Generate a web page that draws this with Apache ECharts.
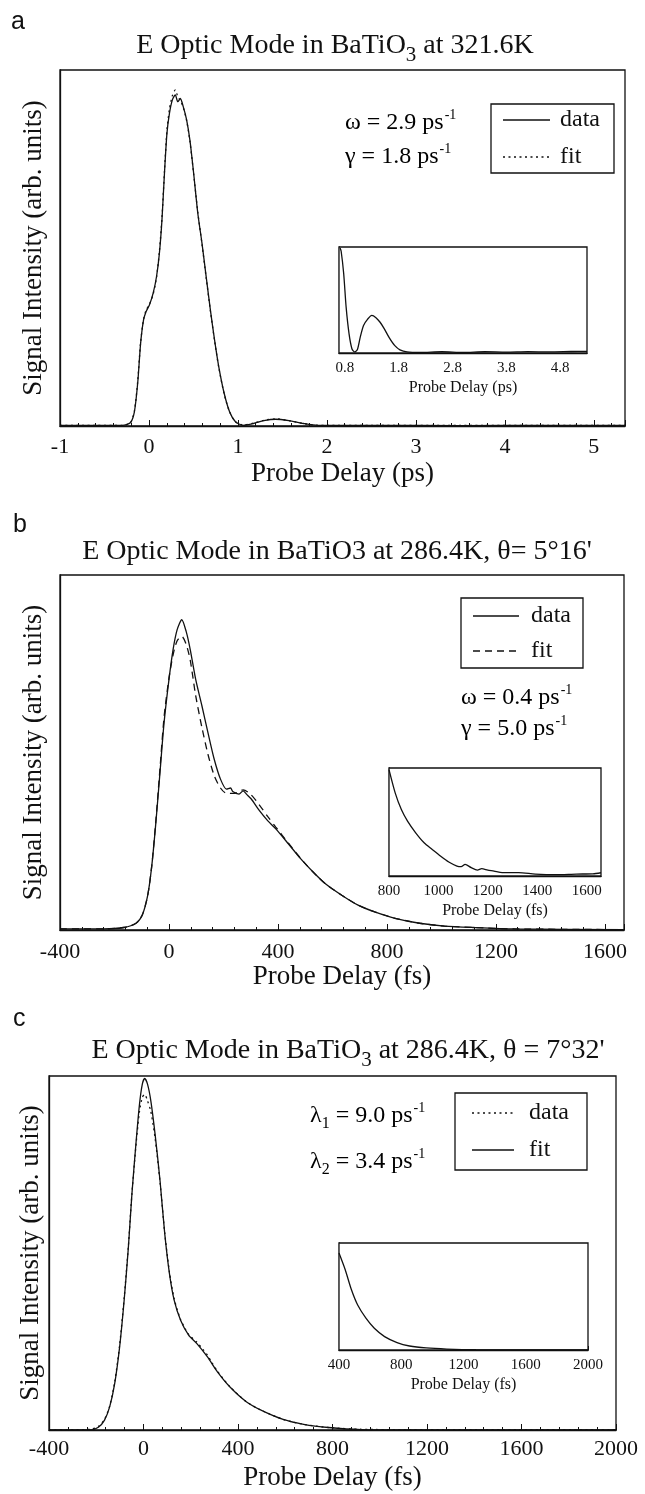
<!DOCTYPE html>
<html>
<head>
<meta charset="utf-8">
<script src="https://cdn.jsdelivr.net/npm/echarts@6/dist/echarts.min.js"></script>
<style>
html,body{margin:0;padding:0;background:#fff;}
#chart{width:645px;height:1494px;}
</style>
</head>
<body>
<div id="chart"></div>
<script>
// ---------- Panel a (ps) ----------
const aMainTicks = [-1, 0, 1, 2, 3, 4, 5];
const aData = [[-1,0.002],[-0.6,0.002],[-0.3,0.002],[-0.21,0.009],[-0.164,0.04],[-0.127,0.12],[-0.094,0.232],[-0.061,0.298],[-0.033,0.321],[0.005,0.34],[0.047,0.373],[0.085,0.42],[0.117,0.485],[0.146,0.579],[0.174,0.71],[0.202,0.822],[0.23,0.878],[0.263,0.916],[0.296,0.93],[0.324,0.911],[0.352,0.92],[0.385,0.897],[0.423,0.86],[0.46,0.803],[0.502,0.71],[0.549,0.597],[0.596,0.513],[0.643,0.419],[0.69,0.326],[0.737,0.242],[0.784,0.167],[0.845,0.092],[0.906,0.04],[0.972,0.012],[1.056,0.002],[1.174,0.007],[1.291,0.015],[1.423,0.019],[1.573,0.015],[1.737,0.007],[1.901,0.002],[2.5,0.002],[3.5,0.001],[4.5,0.002],[5.35,0.002]];
const aFit = [[-1,0.002],[-0.6,0.002],[-0.3,0.002],[-0.21,0.009],[-0.164,0.042],[-0.127,0.125],[-0.094,0.235],[-0.061,0.3],[-0.033,0.325],[0.005,0.342],[0.047,0.37],[0.085,0.418],[0.117,0.49],[0.146,0.585],[0.174,0.715],[0.202,0.83],[0.23,0.89],[0.263,0.928],[0.296,0.944],[0.324,0.925],[0.352,0.915],[0.385,0.895],[0.423,0.858],[0.46,0.8],[0.502,0.708],[0.549,0.6],[0.596,0.51],[0.643,0.416],[0.69,0.324],[0.737,0.24],[0.784,0.165],[0.845,0.09],[0.906,0.04],[0.972,0.012],[1.056,0.003],[1.174,0.008],[1.291,0.016],[1.423,0.02],[1.573,0.015],[1.737,0.007],[1.901,0.002],[2.5,0.002],[3.5,0.002],[4.5,0.002],[5.35,0.002]];
const aInsetTicks = [0.8, 1.8, 2.8, 3.8, 4.8];
const aInset = [[0.71,0.99],[0.73,0.96],[0.777,0.75],[0.823,0.43],[0.877,0.18],[0.93,0.04],[0.977,0.01],[1.03,0.03],[1.085,0.15],[1.146,0.26],[1.223,0.32],[1.3,0.355],[1.377,0.333],[1.454,0.29],[1.53,0.23],[1.623,0.145],[1.723,0.072],[1.823,0.03],[1.954,0.01],[2.2,0.005],[2.6,0.012],[3.0,0.006],[3.4,0.012],[3.8,0.008],[4.2,0.013],[4.6,0.01],[5.0,0.014],[5.3,0.016]];

// ---------- Panel b (fs) ----------
const bMainTicks = [-400, 0, 400, 800, 1200, 1600];
const bData = [[-400,0.003],[-241,0.003],[-166,0.007],[-121,0.019],[-98,0.042],[-78,0.098],[-63,0.182],[-48,0.304],[-33,0.444],[-18,0.584],[0,0.706],[15,0.79],[30,0.846],[47,0.874],[63,0.841],[78,0.79],[98,0.706],[121,0.631],[143,0.556],[166,0.481],[189,0.425],[211,0.397],[226,0.4],[234,0.39],[257,0.383],[272,0.392],[285,0.382],[302,0.369],[332,0.336],[362,0.308],[392,0.285],[438,0.243],[483,0.201],[528,0.164],[573,0.131],[634,0.098],[694,0.07],[755,0.051],[830,0.033],[920,0.019],[1011,0.011],[1117,0.007],[1268,0.003],[1670,0.001]];
const bFit = [[-400,0.003],[-241,0.003],[-166,0.007],[-121,0.019],[-98,0.042],[-78,0.098],[-63,0.182],[-48,0.31],[-33,0.455],[-18,0.6],[0,0.71],[15,0.775],[30,0.815],[47,0.827],[63,0.805],[78,0.76],[98,0.66],[121,0.57],[143,0.495],[166,0.435],[189,0.4],[211,0.385],[240,0.385],[272,0.395],[300,0.382],[332,0.352],[362,0.32],[392,0.29],[438,0.245],[483,0.202],[528,0.164],[573,0.131],[634,0.098],[694,0.07],[755,0.051],[830,0.033],[920,0.019],[1011,0.011],[1117,0.007],[1268,0.003],[1670,0.001]];
const bInsetTicks = [800, 1000, 1200, 1400, 1600];
const bInset = [[800,0.985],[825,0.77],[850,0.615],[875,0.508],[908,0.4],[942,0.308],[975,0.246],[1008,0.185],[1042,0.129],[1075,0.092],[1092,0.086],[1108,0.108],[1133,0.077],[1158,0.055],[1175,0.068],[1200,0.055],[1225,0.046],[1258,0.031],[1325,0.031],[1392,0.018],[1475,0.012],[1558,0.018],[1625,0.02],[1658,0.03]];

// ---------- Panel c (fs) ----------
const cMainTicks = [-400, 0, 400, 800, 1200, 1600, 2000];
const cFit = [[-400,0],[-226,0],[-191,0.008],[-165,0.028],[-143,0.066],[-122,0.131],[-101,0.235],[-82,0.366],[-64,0.516],[-49,0.667],[-31,0.817],[-17,0.92],[-5,0.977],[5,0.993],[17,0.977],[31,0.93],[49,0.836],[70,0.704],[90,0.554],[110,0.441],[130,0.366],[157,0.31],[191,0.268],[226,0.244],[270,0.207],[313,0.164],[365,0.122],[435,0.08],[504,0.054],[591,0.03],[678,0.016],[783,0.007],[922,0.001],[1130,0],[2000,0]];
const cData = [[-400,0],[-226,0.002],[-191,0.01],[-165,0.03],[-143,0.068],[-122,0.135],[-101,0.24],[-82,0.372],[-64,0.52],[-49,0.668],[-31,0.81],[-17,0.9],[-5,0.94],[5,0.948],[17,0.93],[31,0.9],[49,0.825],[70,0.7],[90,0.556],[110,0.445],[130,0.37],[157,0.312],[191,0.27],[226,0.248],[255,0.225],[270,0.212],[290,0.19],[313,0.166],[365,0.123],[435,0.08],[504,0.054],[591,0.03],[678,0.016],[783,0.007],[922,0.002],[1130,0.001],[2000,0.001]];
const cInsetTicks = [400, 800, 1200, 1600, 2000];
const cInset = [[400,0.906],[440,0.75],[480,0.5625],[520,0.42],[573,0.297],[627,0.203],[693,0.125],[773,0.069],[853,0.0375],[960,0.019],[1093,0.009],[1280,0.003],[2000,0]];

const SERIF = 'Liberation Serif';
const SANS = 'Liberation Sans';
const K = '#111';

function mainX(grid, min, max, interval, ticks, name, margin, gap) {
  return {
    type: 'value', gridIndex: grid, min: min, max: max, interval: interval,
    name: name, nameLocation: 'middle', nameGap: gap,
    nameTextStyle: {fontFamily: SERIF, fontSize: 27, color: K},
    axisLine: {show: true, onZero: false, lineStyle: {color: K, width: 1.3}},
    axisTick: {show: true, inside: true, length: 6, lineStyle: {color: K, width: 1}},
    minorTick: {show: true, splitNumber: 5, length: 3, lineStyle: {color: K, width: 1}},
    splitLine: {show: false},
    axisLabel: {color: K, fontFamily: SERIF, fontSize: 22, margin: margin, showMaxLabel: max === ticks[ticks.length - 1],
      formatter: v => ticks.some(t => Math.abs(t - v) < 1e-6) ? String(Math.round(v)) : ''}
  };
}
function insetX(grid, min, max, ticks, name, decimals) {
  return {
    type: 'value', gridIndex: grid, min: min, max: max,
    name: name, nameLocation: 'middle', nameGap: 27,
    nameTextStyle: {fontFamily: SERIF, fontSize: 16, color: K},
    axisLine: {show: true, onZero: false, lineStyle: {color: K, width: 1.3}},
    axisTick: {show: true, inside: true, length: 4, customValues: ticks, lineStyle: {color: K, width: 1}},
    splitLine: {show: false},
    axisLabel: {color: K, fontFamily: SERIF, fontSize: 15, margin: 8, customValues: ticks,
      formatter: v => decimals ? v.toFixed(decimals) : String(Math.round(v))}
  };
}
function yAx(grid, name, gap) {
  const o = {
    type: 'value', gridIndex: grid, min: 0, max: 1,
    axisLine: {show: true, onZero: false, lineStyle: {color: K, width: 1.3}},
    axisTick: {show: false}, axisLabel: {show: false}, splitLine: {show: false}
  };
  if (name) {
    o.name = name; o.nameLocation = 'middle'; o.nameGap = gap; o.nameRotate = 90;
    o.nameTextStyle = {fontFamily: SERIF, fontSize: 27, color: K};
  }
  return o;
}
function line(xi, data, type, z) {
  return {
    type: 'line', xAxisIndex: xi, yAxisIndex: xi, data: data,
    showSymbol: false, symbol: 'none', smooth: 0.25, animation: false, z: z || 2,
    lineStyle: {color: K, width: 1.3, type: type}
  };
}
const gridStyle = {show: true, borderColor: K, borderWidth: 1.3, backgroundColor: '#fff'};

const richTitle = {
  n: {fontFamily: SERIF, fontSize: 28, fontWeight: 'normal', color: K},
  s: {fontFamily: SERIF, fontSize: 21, fontWeight: 'normal', color: K, padding: [20, 0, 0, 0]}
};
const richAnn = {
  n: {fontFamily: SERIF, fontSize: 24, color: K},
  p: {fontFamily: SERIF, fontSize: 14, color: K, padding: [0, 0, 16, 1]},
  b: {fontFamily: SERIF, fontSize: 16, color: K, padding: [16, 0, 0, 0]}
};

function ann(x, y, text) {
  return {type: 'text', x: x, y: y, style: {text: text, rich: richAnn, verticalAlign: 'middle', align: 'left'}};
}
function legendBox(x, y, w, h, y1, y2, dash1, dash2, lx1, lx2, tx) {
  return [
    {type: 'rect', shape: {x: x, y: y, width: w, height: h}, style: {fill: '#fff', stroke: K, lineWidth: 1.3}},
    {type: 'line', shape: {x1: lx1, y1: y1, x2: lx2, y2: y1}, style: {stroke: K, lineWidth: 1.3, lineDash: dash1}},
    {type: 'line', shape: {x1: lx1, y1: y2, x2: lx2, y2: y2}, style: {stroke: K, lineWidth: 1.3, lineDash: dash2}},
    {type: 'text', x: tx, y: y1, style: {text: 'data', fontFamily: SERIF, fontSize: 24, fill: K, verticalAlign: 'middle'}},
    {type: 'text', x: tx, y: y2, style: {text: 'fit', fontFamily: SERIF, fontSize: 24, fill: K, verticalAlign: 'middle'}}
  ];
}
const DOT = [2, 3.5], DASH = [7, 5];
const letterStyle = {fontFamily: SANS, fontSize: 25, fontWeight: 'normal', color: K};

const option = {
  backgroundColor: '#fff',
  animation: false,
  title: [
    {text: 'a', left: 6, top: 5, textStyle: letterStyle},
    {text: 'b', left: 8, top: 508, textStyle: letterStyle},
    {text: 'c', left: 8, top: 1002, textStyle: letterStyle},
    {text: '{n|E Optic Mode in BaTiO}{s|3}{n| at 321.6K}', left: 330, top: 20, textAlign: 'center',
      textStyle: {fontWeight: 'normal', rich: richTitle}},
    {text: "{n|E Optic Mode in BaTiO3 at 286.4K, θ= 5°16'}", left: 332, top: 533, textAlign: 'center',
      textStyle: {fontWeight: 'normal', rich: richTitle}},
    {text: "{n|E Optic Mode in BaTiO}{s|3}{n| at 286.4K, θ = 7°32'}", left: 343, top: 1025, textAlign: 'center',
      textStyle: {fontWeight: 'normal', rich: richTitle}}
  ],
  grid: [
    Object.assign({left: 60, top: 70, width: 565, height: 356}, gridStyle),
    Object.assign({left: 339, top: 247, width: 248, height: 106, z: 5}, gridStyle),
    Object.assign({left: 60, top: 575, width: 564, height: 355}, gridStyle),
    Object.assign({left: 389, top: 768, width: 212, height: 108, z: 5}, gridStyle),
    Object.assign({left: 49, top: 1076, width: 567, height: 354}, gridStyle),
    Object.assign({left: 339, top: 1243, width: 249, height: 107, z: 5}, gridStyle)
  ],
  xAxis: [
    mainX(0, -1, 5.35, 1, aMainTicks, 'Probe Delay (ps)', 10, 34),
    insetX(1, 0.69, 5.3, aInsetTicks, 'Probe Delay (ps)', 1),
    mainX(2, -400, 1670, 400, bMainTicks, 'Probe Delay (fs)', 11, 33),
    insetX(3, 800, 1658, bInsetTicks, 'Probe Delay (fs)', 0),
    mainX(4, -400, 2000, 400, cMainTicks, 'Probe Delay (fs)', 8, 34),
    insetX(5, 400, 2000, cInsetTicks, 'Probe Delay (fs)', 0)
  ],
  yAxis: [
    yAx(0, 'Signal Intensity (arb. units)', 13),
    yAx(1),
    yAx(2, 'Signal Intensity (arb. units)', 13),
    yAx(3),
    yAx(4, 'Signal Intensity (arb. units)', 5),
    yAx(5)
  ],
  series: [
    line(0, aData, 'solid', 2),
    line(0, aFit, DOT, 3),
    line(1, aInset, 'solid', 6),
    line(2, bData, 'solid', 2),
    line(2, bFit, DASH, 3),
    line(3, bInset, 'solid', 6),
    line(4, cData, DOT, 3),
    line(4, cFit, 'solid', 2),
    line(5, cInset, 'solid', 6)
  ],
  graphic: [].concat(
    legendBox(491, 104, 123, 69, 120, 157, null, DOT, 503, 550, 560),
    [ann(345, 123, '{n|ω = 2.9 ps}{p|-1}'), ann(345, 157, '{n|γ = 1.8 ps}{p|-1}')],
    legendBox(461, 598, 122, 70, 616, 651, null, DASH, 473, 519, 531),
    [ann(461, 698, '{n|ω = 0.4 ps}{p|-1}'), ann(461, 729, '{n|γ = 5.0 ps}{p|-1}')],
    legendBox(455, 1093, 132, 77, 1113, 1150, DOT, null, 472, 514, 529),
    [ann(310, 1116, '{n|λ}{b|1}{n| = 9.0 ps}{p|-1}'), ann(310, 1162, '{n|λ}{b|2}{n| = 3.4 ps}{p|-1}')]
  )
};

const chart = echarts.init(document.getElementById('chart'), null, {renderer: 'canvas'});
chart.setOption(option);
</script>
</body>
</html>
